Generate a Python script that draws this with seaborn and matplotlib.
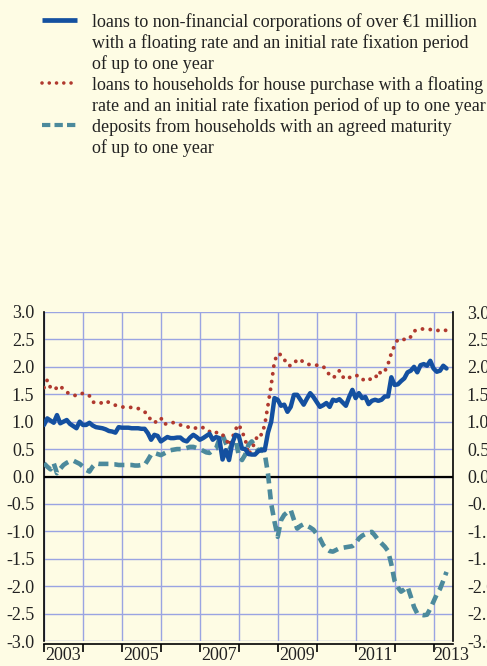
import numpy as np
import pandas as pd
import matplotlib
matplotlib.use("Agg")
import matplotlib.pyplot as plt
from matplotlib.lines import Line2D
from matplotlib.ticker import FixedLocator, FormatStrFormatter
import seaborn as sns

# ---- data (monthly, Jan 2003 - May 2013), percentage points ----
corporations = [
    0.94, 1.06, 1.02, 0.98, 1.12, 0.97, 1.00, 1.03, 0.96, 0.92, 0.88, 1.00,
    0.94, 0.94, 0.98, 0.93, 0.90, 0.89, 0.88, 0.86, 0.83, 0.82, 0.80, 0.90,
    0.89, 0.89, 0.89, 0.88, 0.88, 0.88, 0.87, 0.87, 0.79, 0.67, 0.76, 0.74,
    0.64, 0.68, 0.72, 0.70, 0.70, 0.71, 0.71, 0.66, 0.64, 0.71, 0.76, 0.72,
    0.67, 0.70, 0.74, 0.78, 0.67, 0.72, 0.70, 0.31, 0.48, 0.30, 0.61, 0.76,
    0.74, 0.51, 0.50, 0.41, 0.40, 0.40, 0.46, 0.48, 0.48, 0.80, 1.00, 1.43,
    1.40, 1.29, 1.31, 1.18, 1.27, 1.49, 1.49, 1.40, 1.31, 1.42, 1.52, 1.45,
    1.36, 1.27, 1.30, 1.34, 1.27, 1.40, 1.38, 1.41, 1.35, 1.29, 1.45, 1.58,
    1.43, 1.52, 1.43, 1.45, 1.32, 1.38, 1.40, 1.38, 1.40, 1.46, 1.46, 1.81,
    1.67, 1.68, 1.74, 1.79, 1.90, 1.93, 2.00, 1.90, 2.03, 2.05, 2.02, 2.11,
    1.97, 1.91, 1.93, 2.02, 1.97,
]
households = [
    1.62, 1.76, 1.62, 1.58, 1.62, 1.66, 1.58, 1.54, 1.50, 1.49, 1.47, 1.49,
    1.52, 1.50, 1.47, 1.36, 1.34, 1.33, 1.35, 1.38, 1.35, 1.32, 1.30, 1.28,
    1.27, 1.26, 1.26, 1.26, 1.26, 1.24, 1.21, 1.18, 1.12, 1.02, 0.98, 1.02,
    1.07, 0.95, 0.97, 0.99, 0.98, 0.96, 0.94, 0.92, 0.91, 0.89, 0.87, 0.89,
    0.91, 0.89, 0.87, 0.82, 0.78, 0.80, 0.81, 0.76, 0.70, 0.56, 0.70, 0.86,
    0.95, 0.82, 0.68, 0.40, 0.50, 0.63, 0.78, 0.76, 0.94, 1.30, 1.67, 2.10,
    2.24, 2.22, 2.14, 2.03, 2.02, 2.05, 2.14, 2.12, 2.09, 2.05, 2.04, 2.03,
    2.03, 2.02, 2.01, 1.93, 1.85, 1.80, 1.84, 1.93, 1.82, 1.77, 1.80, 1.84,
    1.84, 1.84, 1.78, 1.74, 1.77, 1.78, 1.78, 1.92, 1.87, 1.92, 2.05, 2.25,
    2.39, 2.50, 2.50, 2.50, 2.49, 2.55, 2.65, 2.68, 2.69, 2.69, 2.68, 2.68,
    2.67, 2.66, 2.67, 2.68, 2.66,
]
deposits = [
    0.24, 0.18, 0.13, 0.24, 0.06, 0.14, 0.21, 0.25, 0.28, 0.29, 0.26, 0.23,
    0.18, 0.12, 0.09, 0.18, 0.24, 0.23, 0.23, 0.23, 0.23, 0.22, 0.22, 0.21,
    0.21, 0.21, 0.21, 0.21, 0.20, 0.20, 0.21, 0.21, 0.30, 0.40, 0.43, 0.41,
    0.39, 0.42, 0.45, 0.48, 0.49, 0.50, 0.50, 0.50, 0.52, 0.54, 0.54, 0.52,
    0.50, 0.47, 0.44, 0.43, 0.48, 0.51, 0.68, 0.76, 0.61, 0.48, 0.60, 0.67,
    0.39, 0.30, 0.40, 0.58, 0.64, 0.55, 0.47, 0.50, 0.42, 0.05, -0.50, -0.82,
    -1.10, -0.80, -0.70, -0.65, -0.61, -0.79, -0.95, -0.90, -0.87, -0.90, -0.93, -0.97,
    -1.05, -1.13, -1.25, -1.32, -1.36, -1.37, -1.34, -1.31, -1.30, -1.29, -1.28, -1.27,
    -1.22, -1.13, -1.08, -1.05, -1.02, -1.01, -1.08, -1.16, -1.22, -1.28, -1.36, -1.60,
    -1.90, -2.02, -2.10, -2.06, -2.01, -2.19, -2.38, -2.50, -2.52, -2.53, -2.52, -2.41,
    -2.28, -2.15, -2.05, -1.90, -1.74,
]
start_year = 2003
year_labels = ["2003", "2005", "2007", "2009", "2011", "2013"]
y_ticks = [-3.0, -2.5, -2.0, -1.5, -1.0, -0.5, 0.0, 0.5, 1.0, 1.5, 2.0, 2.5, 3.0]
legend_lines = [
    ["loans to non-financial corporations of over \u20ac1 million",
     "with a floating rate and an initial rate fixation period",
     "of up to one year"],
    ["loans to households for house purchase with a floating",
     "rate and an initial rate fixation period of up to one year"],
    ["deposits from households with an agreed maturity",
     "of up to one year"],
]

# ---- style ----
BG = "#FEFCE4"
GRID = "#9AA4E2"
BLUE = "#1450A0"
RED = "#B0392E"
TEAL = "#4C8A9C"

sns.set_theme(style="white")
plt.rcParams["font.family"] = ["Liberation Serif", "DejaVu Serif"]
plt.rcParams["axes.unicode_minus"] = False
FS = 13

n = len(corporations)
t = start_year + np.arange(n) / 12.0
df = pd.DataFrame({"t": t, "corp": corporations, "hh": households, "dep": deposits})

W, H = 487, 666
fig = plt.figure(figsize=(W / 100, H / 100), dpi=100, facecolor=BG)
ax = fig.add_axes([44 / W, 1 - 641 / H, (453 - 44) / W, (641 - 312) / H])
ax.set_facecolor(BG)

ax.set_xlim(2003, 2013.5)
ax.set_ylim(-3, 3)

# grid
ax.xaxis.set_major_locator(FixedLocator(np.arange(2003, 2014)))
ax.yaxis.set_major_locator(FixedLocator(y_ticks))
ax.grid(True, color=GRID, lw=1.0, zorder=0)
ax.set_axisbelow(True)
ax.axhline(0, color="black", lw=1.6, zorder=2)

sns.lineplot(data=df, x="t", y="dep", ax=ax, color=TEAL, lw=3.3,
             zorder=3, legend=False)
ax.lines[-1].set_dashes((2.2, 1.3))
ax.lines[-1].set_dash_capstyle("butt")
sns.lineplot(data=df, x="t", y="hh", ax=ax, color=RED, lw=2.8,
             zorder=4, legend=False)
ax.lines[-1].set_dashes((0.01, 2.0))
ax.lines[-1].set_dash_capstyle("round")
sns.lineplot(data=df, x="t", y="corp", ax=ax, color=BLUE, lw=3.2,
             zorder=5, legend=False)

ax.set_xlabel("")
ax.set_ylabel("")

# spines
ax.spines["top"].set_visible(False)
for s in ["left", "right", "bottom"]:
    ax.spines[s].set_visible(True)
    ax.spines[s].set_color("black")
    ax.spines[s].set_linewidth(1.2)
ax.spines["bottom"].set_position(("outward", 2))

# x ticks: year boundaries (major, unlabeled), labels at mid-year (minor)
ax.tick_params(axis="x", which="major", bottom=True, length=6, width=1.2,
               color="black", labelbottom=False, direction="out")
ax.set_xticks([2003.5, 2005.5, 2007.5, 2009.5, 2011.5, 2013.45], minor=True)
ax.set_xticklabels(year_labels, minor=True)
ax.tick_params(axis="x", which="minor", length=0, labelsize=FS, pad=2.5,
               labelcolor="#222222")

ax.yaxis.set_major_formatter(FormatStrFormatter("%.1f"))
ax.tick_params(axis="y", length=0, labelsize=FS, pad=7, labelcolor="#222222")

ax2 = ax.twinx()
ax2.set_ylim(-3, 3)
ax2.yaxis.set_major_locator(FixedLocator(y_ticks))
ax2.yaxis.set_major_formatter(FormatStrFormatter("%.1f"))
ax2.tick_params(axis="y", length=0, labelsize=FS, pad=10, labelcolor="#222222")
for s in ax2.spines.values():
    s.set_visible(False)
ax2.grid(False)

# ---- legend (manual, first line aligned with key) ----
styles = [
    dict(color=BLUE, lw=3.4, solid_capstyle="butt"),
    dict(color=RED, lw=2.6, dashes=(0.01, 2.0), dash_capstyle="round"),
    dict(color=TEAL, lw=3.0, dashes=(2.0, 1.0), dash_capstyle="butt"),
]
line_no = 0
for lines, st in zip(legend_lines, styles):
    base = 26.6 + 21.0 * line_no
    yk = 1 - (base - 6.2) / H
    fig.add_artist(Line2D([42 / W, 77 / W], [yk, yk], transform=fig.transFigure, **st))
    for ln in lines:
        base = 26.6 + 21.0 * line_no
        fig.text(92 / W, 1 - base / H, ln, fontsize=FS, va="baseline", ha="left",
                 color="#222222")
        line_no += 1

fig.savefig("out.png", dpi=100, facecolor=BG)
